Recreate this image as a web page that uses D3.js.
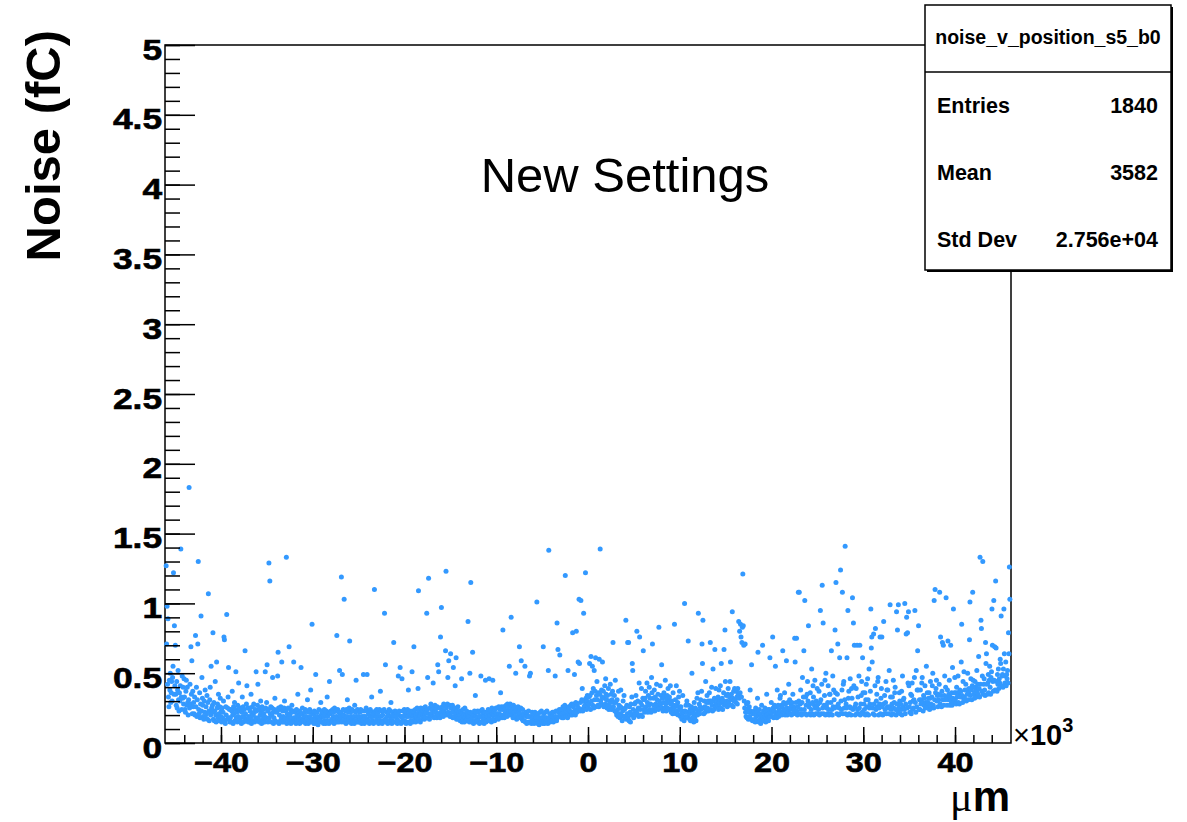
<!DOCTYPE html>
<html>
<head>
<meta charset="utf-8">
<script src="https://cdn.jsdelivr.net/npm/d3@7"></script>
<style>
  body { margin: 0; background: #fff; }
  svg { display: block; }
</style>
</head>
<body>
<svg id="chart" width="1187" height="822"></svg>
<script>
// strip positions in um, 50 um pitch, 20 strips per row of 1000 um
const segmentStarts = [-46000, -23000, 0, 23000];
const stripPitch = 50;

// noise per strip, hundredths of fC (rows -46..-24 k)
const noiseA = [
  [127,71,98,42,89,33,26,45,38,50,29,36,44,30,47,55,122,35,84,41],
  [70,35,27,44,25,38,52,31,23,36,30,41,139,33,24,48,32,40,28,46],
  [33,24,22,37,45,27,40,29,20,31,183,25,42,28,69,35,59,21,37,26],
  [29,21,33,20,77,26,40,19,31,71,130,24,21,36,18,28,91,23,47,32],
  [27,19,17,30,22,38,18,26,21,34,17,29,107,23,16,31,40,20,55,25],
  [22,27,79,17,29,16,23,44,20,15,58,25,28,18,35,21,16,26,32,19],
  [23,15,25,18,22,30,76,74,16,14,26,20,92,17,25,33,54,18,24,15],
  [18,24,15,23,37,20,14,26,21,29,16,24,51,18,22,15,27,19,43,25],
  [23,16,25,18,14,22,33,19,26,15,24,18,66,21,16,28,41,17,25,15],
  [19,25,15,23,18,35,14,21,26,16,20,28,22,15,24,18,51,23,17,27],
  [42,18,24,15,25,20,30,22,14,26,17,24,15,21,19,15,51,25,18,29],
  [56,23,15,24,129,18,116,21,26,15,20,25,47,22,14,18,24,32,16,23],
  [22,15,23,48,65,25,14,20,24,16,26,18,58,15,23,19,15,25,30,18],
  [17,23,133,14,21,17,25,19,69,15,20,24,14,22,27,17,15,23,58,18],
  [16,22,18,14,24,17,20,35,15,19,23,14,22,17,54,15,21,25,17,16],
  [19,15,22,24,14,19,16,23,31,17,14,22,16,24,19,38,15,22,85,17],
  [16,21,14,23,16,19,49,14,18,22,19,13,16,24,18,15,17,29,20,23],
  [19,15,22,14,19,24,16,20,14,23,16,33,19,15,22,14,44,21,16,23],
  [22,17,15,24,19,22,14,25,17,15,23,19,77,15,24,17,22,15,52,20],
  [17,22,119,15,49,19,24,20,103,15,17,23,14,24,19,31,15,22,17,25],
  [73,15,22,19,14,24,17,15,23,19,14,27,16,22,45,19,15,24,17,15],
  [19,15,22,17,24,15,14,19,23,16,49,19,14,23,19,15,25,17,49,16],
  [16,21,23,14,19,24,15,19,33,16,22,19,14,21,110,15,23,19,16,24]
];

// rows -23..-1 k
const noiseB = [
  [19,15,22,14,19,24,16,37,19,23,15,14,20,23,16,24,93,17,56,15],
  [16,22,19,14,21,15,24,19,16,23,29,19,14,16,22,19,72,15,21,23],
  [19,15,22,17,14,16,48,20,23,15,54,19,14,19,46,16,23,19,15,24],
  [16,21,23,14,19,15,24,19,38,15,21,23,14,19,16,21,51,23,15,19],
  [69,22,17,24,15,20,18,25,21,39,109,17,23,20,15,25,21,17,24,20],
  [23,18,25,17,21,26,18,22,93,24,47,18,118,21,17,25,20,28,21,24],
  [24,19,43,26,18,22,27,19,25,22,18,26,56,21,51,19,25,18,76,22],
  [97,20,26,23,19,28,23,20,27,66,123,25,20,28,47,22,59,20,27,19],
  [64,25,19,22,27,18,54,23,19,25,41,21,61,17,23,19,26,17,22,18],
  [20,16,23,18,46,15,21,24,17,20,15,25,18,21,16,23,17,20,87,16],
  [19,15,50,22,115,17,15,21,65,19,14,20,23,16,34,19,22,15,18,23],
  [16,22,19,14,19,23,48,15,19,24,16,21,19,14,22,17,45,15,22,19],
  [19,22,24,16,46,20,17,23,20,15,25,21,45,17,23,20,16,24,20,25],
  [21,18,25,21,17,26,21,18,24,36,20,26,18,24,81,20,26,18,24,21],
  [22,27,23,19,28,21,26,23,55,20,28,23,90,26,20,25,18,27,22,25],
  [22,19,50,25,17,22,19,26,22,18,69,21,24,25,59,19,17,24,16,21],
  [20,16,55,15,22,19,14,22,19,15,23,19,48,15,50,19,14,16,22,19],
  [18,21,14,16,22,15,18,21,101,16,14,21,18,13,16,22,15,18,23,16],
  [18,14,69,21,16,14,18,22,15,18,23,16,14,52,138,18,21,15,16,21],
  [19,16,22,19,15,22,18,16,48,19,23,16,86,18,67,22,19,24,63,20],
  [20,23,24,18,21,26,18,24,21,27,120,22,19,25,22,18,52,24,26,21],
  [23,20,27,22,28,20,79,26,22,28,49,24,20,29,80,22,27,24,58,25],
  [103,57,23,29,102,24,31,39,23,30,93,26,30,27,122,32,24,30,34,27]
];

// rows 0..22 k
const noiseC = [
  [26,33,28,57,34,24,62,30,36,55,27,39,25,52,31,37,61,26,34,44],
  [31,27,36,26,60,35,139,30,28,38,33,58,27,37,26,32,41,28,46,35],
  [31,25,34,27,39,24,30,26,42,29,35,24,31,37,72,26,29,34,23,45],
  [29,22,20,31,24,19,37,27,21,18,26,38,20,25,16,23,30,19,34,24],
  [19,25,88,17,27,21,72,18,72,16,26,22,15,28,20,33,57,52,24,18],
  [21,28,20,29,34,23,80,21,30,25,19,43,76,24,29,20,39,27,19,32],
  [66,24,31,22,32,37,26,23,43,29,22,34,27,40,24,32,28,22,47,36],
  [71,24,32,27,38,23,33,28,25,42,31,27,35,24,83,30,25,41,28,34],
  [56,25,32,23,29,36,33,25,45,28,23,31,34,25,39,29,24,33,30,41],
  [28,22,30,25,21,36,27,23,85,26,31,21,41,27,23,29,20,33,26,37],
  [24,19,26,21,17,23,34,19,22,16,100,23,19,27,18,30,22,19,73,27],
  [21,17,24,16,22,26,50,18,23,21,15,29,18,25,21,16,24,32,20,36],
  [93,22,28,21,26,31,24,37,71,57,88,25,21,30,26,22,44,25,29,34],
  [25,30,23,29,36,30,72,24,30,40,27,23,53,30,24,32,67,26,39,28],
  [26,31,26,33,24,38,28,31,41,25,57,29,32,24,30,36,67,27,81,44],
  [28,34,30,26,35,39,29,27,33,44,58,31,35,27,94,32,26,37,30,39],
  [31,37,29,38,33,28,39,35,87,32,80,36,85,76,33,72,83,121,84,70],
  [30,25,71,22,19,28,18,24,29,17,22,26,19,38,23,17,56,22,16,21],
  [21,16,23,17,15,25,19,16,22,32,65,20,15,24,17,21,14,19,27,16],
  [70,17,23,16,21,25,19,15,22,35,20,17,24,16,21,24,61,19,22,29],
  [22,19,76,25,18,23,27,19,55,21,26,18,38,22,27,19,24,21,32,34],
  [22,27,20,26,66,23,29,24,36,20,28,23,59,25,20,29,22,42,24,31],
  [25,21,28,20,29,24,35,21,26,24,75,58,21,29,75,23,20,26,108,30]
];

// rows 23..45 k
const noiseD = [
  [108,21,28,38,24,20,29,47,21,33,66,24,102,21,33,27,20,35,44,30],
  [84,26,21,28,36,20,24,53,21,29,41,33,20,27,45,25,21,30,26,39],
  [21,28,24,37,20,29,95,31,21,42,113,25,86,21,27,34,45,20,50,27],
  [25,21,29,41,24,20,35,35,21,29,66,24,20,48,26,38,31,25,81,36],
  [115,26,21,35,71,28,20,25,61,21,124,30,24,38,108,21,42,44,25,31],
  [141,21,28,25,61,20,95,32,37,21,26,46,25,20,39,32,104,24,86,41],
  [70,26,20,28,39,21,70,24,33,21,48,25,70,20,28,34,44,22,61,36],
  [21,28,24,36,20,31,42,26,21,46,31,20,53,25,28,37,96,68,76,58],
  [25,21,78,28,20,41,82,24,30,35,26,44,47,20,25,28,76,21,32,39],
  [76,26,20,28,87,21,34,24,29,44,21,38,26,38,25,21,52,26,99,33],
  [24,20,28,33,21,45,25,29,36,40,24,20,94,28,81,22,99,25,36,30],
  [21,28,24,37,20,48,26,31,32,24,100,21,28,78,90,25,79,43,94,41],
  [26,22,29,35,21,34,43,24,30,25,31,47,95,29,22,52,26,38,66,38],
  [84,24,31,24,38,28,31,43,47,29,23,34,27,32,41,25,29,55,27,36],
  [29,25,32,36,24,32,44,28,25,33,41,50,27,25,102,31,110,36,39,45],
  [30,34,26,35,31,42,108,28,76,34,26,37,72,31,70,27,34,48,31,40],
  [104,33,27,38,73,31,35,45,27,33,70,30,36,27,54,32,96,29,36,47],
  [31,36,28,40,33,36,48,29,35,28,38,33,37,58,85,34,29,44,32,51],
  [33,38,31,42,30,38,35,50,31,36,39,74,101,34,46,38,31,41,108,45],
  [35,40,32,44,37,40,33,52,38,42,35,62,39,33,133,42,88,82,37,48],
  [130,35,42,46,38,34,72,57,64,42,35,43,49,36,45,55,40,35,47,51],
  [96,70,44,37,102,45,69,38,116,68,44,37,49,42,53,39,46,43,60,57],
  [91,41,48,49,40,53,96,64,43,48,58,41,49,46,52,43,79,64,126,103]
];

const yMajorTicks = [0, 0.5, 1, 1.5, 2, 2.5, 3, 3.5, 4, 4.5, 5];
const xMajorTicks = [-40000, -30000, -20000, -10000, 0, 10000, 20000, 30000, 40000];

const histName = "noise_v_position_s5_b0";
const statNames = ["Entries", "Mean", "Std Dev"];
const statValues = ["1840", "3582", "2.756e+04"];

const boldFont = "'Liberation Sans', Arial, Helvetica, sans-serif";

const svg = d3.select("#chart");

const frame = {left: 165, right: 1011, top: 45, bottom: 743};

const x = d3.scaleLinear()
    .domain([-46100, 46100])
    .range([frame.left, frame.right]);

const y = d3.scaleLinear()
    .domain([0, 5])
    .range([frame.bottom, frame.top]);

const points = [];
[noiseA, noiseB, noiseC, noiseD].forEach((rows, s) => {
    rows.forEach((row, r) => {
        row.forEach((v, j) => {
            points.push({pos: segmentStarts[s] + r * 1000 + (j + 0.5) * stripPitch, noise: v / 100});
        });
    });
});

// frame
svg.append("rect")
    .attr("x", frame.left)
    .attr("y", frame.top)
    .attr("width", frame.right - frame.left)
    .attr("height", frame.bottom - frame.top)
    .attr("fill", "none")
    .attr("stroke", "#000")
    .attr("stroke-width", 1.5);

// points
svg.append("g")
    .selectAll("circle")
    .data(points)
    .join("circle")
        .attr("cx", d => x(d.pos))
        .attr("cy", d => y(d.noise))
        .attr("r", 2.5)
        .attr("fill", "#3399ff");

// y axis, ticks pointing inward
svg.append("g")
    .attr("transform", `translate(${frame.left},0)`)
    .call(d3.axisLeft(y).tickValues(d3.range(0, 51).map(d => d / 10)).tickSize(-15).tickFormat(""));

const yAxis = svg.append("g")
    .attr("transform", `translate(${frame.left},0)`)
    .call(d3.axisLeft(y).tickValues(yMajorTicks).tickSize(-30).tickPadding(3)
        .tickFormat(d => d3.format("")(d)));

yAxis.selectAll("text")
    .attr("dy", null)
    .attr("y", 14)
    .attr("x", -2.5)
    .attr("transform", "scale(1.18,1)")
    .style("font-family", boldFont)
    .style("font-weight", "bold")
    .style("font-size", "30px")
    .attr("fill", "#000")
    .attr("stroke", "#000")
    .attr("stroke-width", 0.6);

// x axis
svg.append("g")
    .attr("transform", `translate(0,${frame.bottom})`)
    .call(d3.axisBottom(x).tickValues(d3.range(-44000, 44001, 2000)).tickSize(-8).tickFormat(""));

const xAxis = svg.append("g")
    .attr("transform", `translate(0,${frame.bottom})`)
    .call(d3.axisBottom(x).tickValues(xMajorTicks).tickSize(-16)
        .tickFormat(d => d3.format("")(d / 1000)));

xAxis.selectAll("text")
    .attr("dy", null)
    .attr("y", 29)
    .attr("transform", "scale(1.2,1)")
    .style("font-family", boldFont)
    .style("font-weight", "bold")
    .style("font-size", "27px")
    .attr("fill", "#000")
    .attr("stroke", "#000")
    .attr("stroke-width", 0.6);

svg.selectAll(".domain").remove();
svg.selectAll(".tick line").attr("stroke", "#000").attr("stroke-width", 1.5);

// x multiplier
const mult = svg.append("text")
    .attr("x", 1013)
    .attr("y", 745)
    .style("font-family", boldFont)
    .attr("fill", "#000");
mult.append("tspan").text("\u00d7").style("font-size", "29px");
mult.append("tspan").text("10").style("font-size", "29px").style("font-weight", "bold");
mult.append("tspan").text("3").attr("dy", -13).style("font-size", "20px").style("font-weight", "bold");

// axis titles
svg.append("text")
    .attr("transform", "translate(60,30) rotate(-90)")
    .attr("text-anchor", "end")
    .style("font-family", boldFont)
    .style("font-weight", "bold")
    .style("font-size", "49px")
    .text("Noise (fC)");

const xTitle = svg.append("text")
    .attr("x", 1010)
    .attr("y", 811)
    .attr("text-anchor", "end")
    .style("font-size", "42px");
xTitle.append("tspan").text("\u03bc").style("font-family", "'Liberation Serif', serif");
xTitle.append("tspan").text("m").style("font-family", boldFont).style("font-weight", "bold");

// annotation
svg.append("text")
    .attr("x", 625)
    .attr("y", 192)
    .attr("text-anchor", "middle")
    .style("font-family", boldFont)
    .style("font-size", "49px")
    .text("New Settings");

// stats box
const box = {x: 925, y: 5, w: 246, h: 265, split: 72};
svg.append("rect")
    .attr("x", box.x + 2).attr("y", box.y + 2)
    .attr("width", box.w).attr("height", box.h)
    .attr("fill", "#000");
svg.append("rect")
    .attr("x", box.x).attr("y", box.y)
    .attr("width", box.w).attr("height", box.h)
    .attr("fill", "#fff")
    .attr("stroke", "#000")
    .attr("stroke-width", 1.5);
svg.append("line")
    .attr("x1", box.x).attr("x2", box.x + box.w)
    .attr("y1", box.split).attr("y2", box.split)
    .attr("stroke", "#000")
    .attr("stroke-width", 1.5);

svg.append("text")
    .attr("x", box.x + box.w / 2)
    .attr("y", 44)
    .attr("text-anchor", "middle")
    .style("font-family", boldFont)
    .style("font-weight", "bold")
    .style("font-size", "19.5px")
    .text(histName);

const rowY = d3.scalePoint().domain(statNames).range([113, 246.5]);

svg.append("g")
    .selectAll("text")
    .data(statNames)
    .join("text")
        .attr("x", 937)
        .attr("y", d => rowY(d))
        .style("font-family", boldFont)
        .style("font-weight", "bold")
        .style("font-size", "21.5px")
        .text(d => d);

svg.append("g")
    .selectAll("text")
    .data(statValues)
    .join("text")
        .attr("x", 1158)
        .attr("y", (d, i) => rowY(statNames[i]))
        .attr("text-anchor", "end")
        .style("font-family", boldFont)
        .style("font-weight", "bold")
        .style("font-size", "21.5px")
        .text(d => d);
</script>
</body>
</html>
